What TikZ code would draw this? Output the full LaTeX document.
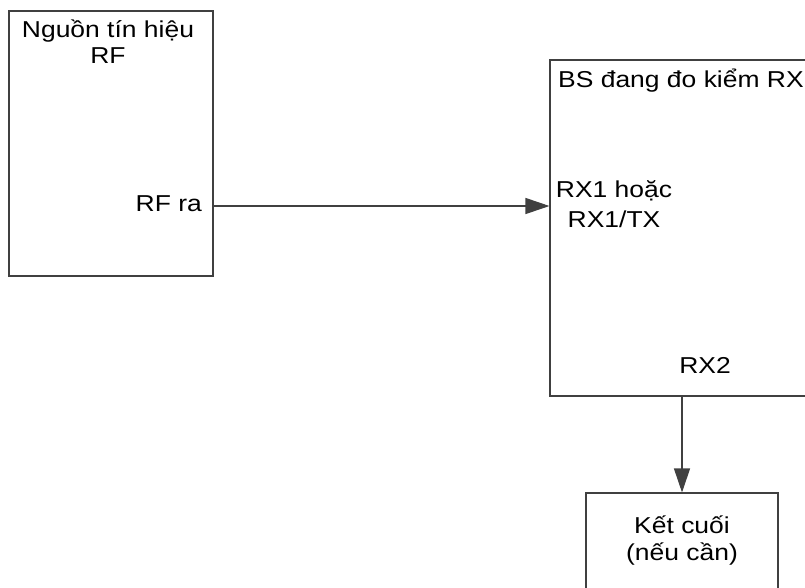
\documentclass[tikz,border=0pt]{standalone}
\usepackage{fontspec}
\setmainfont{Liberation Sans}
\usetikzlibrary{positioning,calc,arrows.meta}
\definecolor{linegray}{HTML}{404040}
\newcommand{\wtext}[1]{\scalebox{1.15}[1]{#1}}

\begin{document}
\begin{tikzpicture}[x=1pt, y=-1pt,
    blk/.style={draw=linegray, line width=1.1pt, inner sep=0pt},
    lbl/.style={inner sep=0pt, align=center, anchor=base, font=\fontsize{23}{26}\selectfont},
    conn/.style={draw=linegray, line width=1.1pt, -{Triangle[length=24pt,width=16pt]}}]
    \useasboundingbox (0,0) rectangle (805,587);

    % Blocks
    \node[blk, minimum width=204pt, minimum height=265pt] (src) at (111,143.5) {};
    \node[blk, minimum width=290pt, minimum height=336pt] (bs) at (695,228) {};
    \node[blk, minimum width=192pt, minimum height=130pt] (term) at (682,558) {};

    % Labels (base = last line)
    \node[lbl] (srcname) at (108,63) {\wtext{Nguồn tín hiệu}\\\wtext{RF}};
    \node[lbl, anchor=base east] (rfout) at (202,211) {\wtext{RF ra}};
    \node[lbl, anchor=base west] (bsname) at (558,87) {\wtext{BS đang đo kiểm RX}};
    \node[lbl, font=\fontsize{23}{30}\selectfont] (rx1) at (614,227) {\wtext{RX1 hoặc}\\\wtext{RX1/TX}};
    \node[lbl] (rx2) at (705,373) {\wtext{RX2}};
    \node[lbl, font=\fontsize{23}{27}\selectfont] (termname) at (682,560) {\wtext{Kết cuối}\\\wtext{(nếu cần)}};

    % Connectors
    \coordinate (rfport) at (213,206);
    \draw[conn] (rfport) -- (rfport -| bs.west);
    \draw[conn] (term.north |- bs.south) -- (term.north);
\end{tikzpicture}
\end{document}
